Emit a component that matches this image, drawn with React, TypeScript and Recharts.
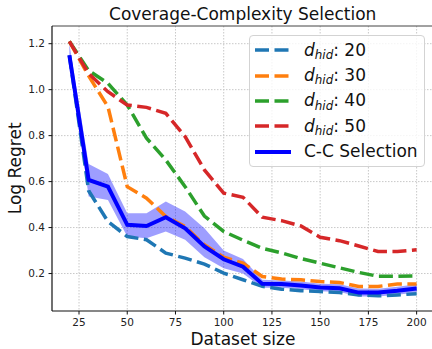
import { ComposedChart, Line, Area, XAxis, YAxis, CartesianGrid, Legend, ReferenceLine } from 'recharts';

const FONT = '"DejaVu Sans", sans-serif';

const sizes = [20, 30, 40, 50, 60, 70, 80, 90, 100, 110, 120, 130, 140, 150, 160, 170, 180, 190, 200];

const d20 = [1.15, 0.56, 0.426, 0.361, 0.347, 0.289, 0.267, 0.241, 0.202, 0.173, 0.144, 0.132, 0.125, 0.122, 0.117, 0.107, 0.103, 0.107, 0.112];
const d30 = [1.21, 1.06, 0.926, 0.578, 0.528, 0.448, 0.404, 0.325, 0.271, 0.245, 0.187, 0.176, 0.173, 0.165, 0.161, 0.144, 0.144, 0.154, 0.154];
const d40 = [1.21, 1.083, 1.028, 0.933, 0.789, 0.694, 0.578, 0.45, 0.383, 0.345, 0.31, 0.29, 0.265, 0.245, 0.225, 0.205, 0.188, 0.188, 0.19];
const d50 = [1.21, 1.07, 0.991, 0.933, 0.923, 0.897, 0.796, 0.651, 0.55, 0.532, 0.445, 0.43, 0.407, 0.358, 0.343, 0.32, 0.296, 0.296, 0.303];

const cc = [1.15, 0.607, 0.578, 0.412, 0.407, 0.445, 0.397, 0.318, 0.262, 0.23, 0.155, 0.154, 0.148, 0.139, 0.136, 0.117, 0.117, 0.125, 0.135];
const ccLow = [1.13, 0.535, 0.52, 0.361, 0.354, 0.383, 0.347, 0.271, 0.223, 0.2, 0.138, 0.138, 0.132, 0.123, 0.12, 0.1, 0.1, 0.108, 0.118];
const ccHigh = [1.2, 0.677, 0.633, 0.462, 0.462, 0.513, 0.47, 0.397, 0.3, 0.263, 0.173, 0.17, 0.165, 0.156, 0.153, 0.135, 0.134, 0.142, 0.153];

const xTicks = [25, 50, 75, 100, 125, 150, 175, 200];
const yTicks = [0.2, 0.4, 0.6, 0.8, 1.0, 1.2];

const X_DOMAIN = [11, 209];
const Y_DOMAIN = [0.037, 1.277];

const dashed = [
  { key: 'd20', dim: '20', color: '#1f77b4' },
  { key: 'd30', dim: '30', color: '#ff7f0e' },
  { key: 'd40', dim: '40', color: '#2ca02c' },
  { key: 'd50', dim: '50', color: '#d62728' },
];

const data = sizes.map((s, i) => ({
  size: s,
  d20: d20[i],
  d30: d30[i],
  d40: d40[i],
  d50: d50[i],
  cc: cc[i],
  band: [ccLow[i], ccHigh[i]],
}));

const DASH = '14 5.5';

function LegendBox() {
  const rows = [
    ...dashed.map((d) => ({ color: d.color, dash: true, label: d.dim })),
    { color: '#0000ff', dash: false, label: null as string | null },
  ];
  return (
    <div
      style={{
        width: 176,
        height: 132,
        boxSizing: 'border-box',
        border: '1px solid #d3d3d3',
        borderRadius: 4,
        background: 'rgba(255,255,255,0.8)',
        paddingTop: 1.5,
        fontFamily: FONT,
        fontSize: 17,
        color: '#111',
      }}
    >
      {rows.map((r, i) => (
        <div key={i} style={{ height: 25.4, display: 'flex', alignItems: 'center' }}>
          <svg width={54} height={10} style={{ flex: 'none' }}>
            <line
              x1={5}
              x2={41}
              y1={5}
              y2={5}
              stroke={r.color}
              strokeWidth={r.dash ? 3.5 : 4}
              strokeDasharray={r.dash ? DASH : undefined}
            />
          </svg>
          <span style={{ whiteSpace: 'nowrap', lineHeight: 1 }}>
            {r.label === null ? (
              'C-C Selection'
            ) : (
              <>
                <span style={{ fontStyle: 'italic' }}>d</span>
                <span style={{ fontStyle: 'italic', fontSize: '0.7em', position: 'relative', top: '0.28em' }}>hid</span>
                {': ' + r.label}
              </>
            )}
          </span>
        </div>
      ))}
    </div>
  );
}

export default function App() {
  const tickStyle = { fontSize: 10.5, fill: '#222', fontFamily: FONT };
  return (
    <div style={{ position: 'absolute', left: 0, top: 0, width: 432, height: 349, overflow: 'hidden', background: '#fff' }}>
      <ComposedChart width={434} height={349} data={data} margin={{ top: 26, right: 0, bottom: 0, left: 0 }}>
        <CartesianGrid stroke="#c8c8c8" strokeDasharray="1.5 1.5" horizontalValues={yTicks} verticalValues={xTicks} />
        <XAxis
          dataKey="size"
          type="number"
          domain={X_DOMAIN}
          ticks={xTicks}
          allowDataOverflow
          height={38}
          tickSize={3.5}
          tickMargin={4.5}
          tick={tickStyle}
          axisLine={{ stroke: '#111', strokeWidth: 1.2 }}
          tickLine={{ stroke: '#111' }}
        />
        <YAxis
          type="number"
          domain={Y_DOMAIN}
          ticks={yTicks}
          allowDataOverflow
          width={52}
          tickSize={3.5}
          tickMargin={3.5}
          tick={tickStyle}
          tickFormatter={(v: number) => v.toFixed(1)}
          axisLine={{ stroke: '#111', strokeWidth: 1.2 }}
          tickLine={{ stroke: '#111' }}
        />
        <ReferenceLine y={Y_DOMAIN[1]} stroke="#444" strokeWidth={1} />
        {dashed.map((d) => (
          <Line
            key={d.key}
            type="linear"
            dataKey={d.key}
            stroke={d.color}
            strokeWidth={3.5}
            strokeDasharray={DASH}
            dot={false}
            isAnimationActive={false}
          />
        ))}
        <Area
          type="linear"
          dataKey="band"
          stroke="none"
          fill="#0000ff"
          fillOpacity={0.38}
          legendType="none"
          isAnimationActive={false}
        />
        <Line type="linear" dataKey="cc" stroke="#0000ff" strokeWidth={4} dot={false} isAnimationActive={false} />
        <Legend
          layout="horizontal"
          align="center"
          verticalAlign="middle"
          wrapperStyle={{ left: 249, top: 35, width: 176, height: 132 }}
          content={() => <LegendBox />}
        />
      </ComposedChart>
      <svg width={432} height={349} style={{ position: 'absolute', left: 0, top: 0, pointerEvents: 'none' }}>
        <text x={242.7} y={20} textAnchor="middle" fontFamily={FONT} fontSize={17} fill="#111">
          Coverage-Complexity Selection
        </text>
        <text x={243} y={344.5} textAnchor="middle" fontFamily={FONT} fontSize={17} fill="#111">
          Dataset size
        </text>
        <text x={20.7} y={168.3} textAnchor="middle" fontFamily={FONT} fontSize={17} fill="#111" transform="rotate(-90 20.7 168.3)">
          Log Regret
        </text>
      </svg>
    </div>
  );
}
